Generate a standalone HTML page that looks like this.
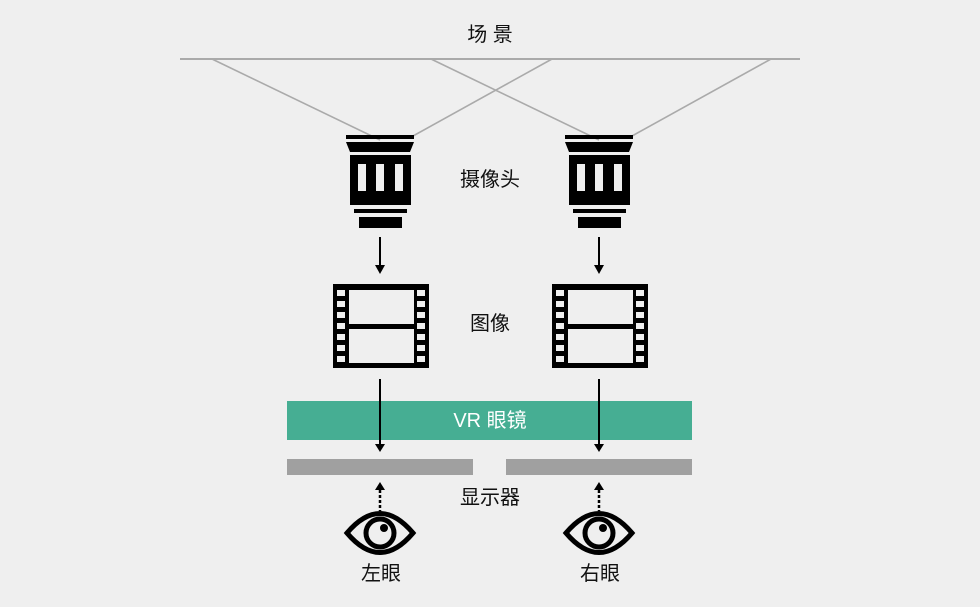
<!DOCTYPE html>
<html><head><meta charset="utf-8"><style>
html,body{margin:0;padding:0;background:#efefef;}
svg{display:block}
text{font-family:"Liberation Sans","Noto Sans CJK SC",sans-serif;font-size:20px;fill:#111;text-anchor:middle}
</style></head><body>
<svg width="980" height="607" viewBox="0 0 980 607" xmlns="http://www.w3.org/2000/svg">
<defs>
<g id="cam">
<rect x="-34" y="135" width="68" height="4" fill="#000"/>
<polygon points="-34,142 34,142 30,152 -30,152" fill="#000"/>
<rect x="-30" y="155" width="61" height="50" fill="#000"/>
<rect x="-22" y="164" width="8" height="27" fill="#efefef"/>
<rect x="-4" y="164" width="8" height="27" fill="#efefef"/>
<rect x="15" y="164" width="8" height="27" fill="#efefef"/>
<rect x="-26" y="209" width="53" height="4" fill="#000"/>
<rect x="-21" y="217" width="43" height="11" fill="#000"/>
<line x1="0" y1="237" x2="0" y2="266" stroke="#000" stroke-width="2"/>
<polygon points="-5,265 5,265 0,274" fill="#000"/>
</g>
<g id="film">
<rect x="-47" y="284" width="96" height="84" fill="#000"/>
<rect x="-31" y="290" width="65" height="34" fill="#efefef"/>
<rect x="-31" y="329" width="65" height="34" fill="#efefef"/>
<g fill="#efefef">
<rect x="-43" y="290" width="8" height="6"/><rect x="-43" y="301" width="8" height="6"/><rect x="-43" y="312" width="8" height="6"/><rect x="-43" y="323" width="8" height="6"/><rect x="-43" y="334" width="8" height="6"/><rect x="-43" y="345" width="8" height="6"/><rect x="-43" y="356" width="8" height="6"/>
<rect x="37" y="290" width="8" height="6"/><rect x="37" y="301" width="8" height="6"/><rect x="37" y="312" width="8" height="6"/><rect x="37" y="323" width="8" height="6"/><rect x="37" y="334" width="8" height="6"/><rect x="37" y="345" width="8" height="6"/><rect x="37" y="356" width="8" height="6"/>
</g>
</g>
<g id="eye">
<path d="M-33,533 Q0,494 33,533 Q0,572 -33,533 Z" fill="none" stroke="#000" stroke-width="5"/>
<circle cx="0" cy="533" r="14" fill="none" stroke="#000" stroke-width="5"/>
<circle cx="4" cy="528" r="4" fill="#000"/>
<line x1="0" y1="490" x2="0" y2="511" stroke="#000" stroke-width="2.5" stroke-dasharray="3,2"/>
<polygon points="-5,490 5,490 0,482" fill="#000"/>
</g>
</defs>
<line x1="180" y1="59" x2="800" y2="59" stroke="#aaa" stroke-width="2"/>
<g stroke="#aaa" stroke-width="1.6">
<line x1="212" y1="59" x2="380" y2="140"/>
<line x1="552" y1="59" x2="413" y2="136"/>
<line x1="431" y1="59" x2="599" y2="140"/>
<line x1="771" y1="59" x2="632" y2="136"/>
</g>
<use href="#cam" x="380"/>
<use href="#cam" x="599"/>
<use href="#film" x="380"/>
<use href="#film" x="599"/>
<rect x="287" y="401" width="405" height="39" fill="#46ae93"/>
<text x="490" y="427" style="fill:#fff">VR 眼镜</text>
<rect x="287" y="459" width="186" height="16" fill="#a0a0a0"/>
<rect x="506" y="459" width="186" height="16" fill="#a0a0a0"/>
<g stroke="#000" stroke-width="2">
<line x1="380" y1="379" x2="380" y2="445"/>
<line x1="599" y1="379" x2="599" y2="445"/>
</g>
<polygon points="375,444 385,444 380,452" fill="#000"/>
<polygon points="594,444 604,444 599,452" fill="#000"/>
<use href="#eye" x="380"/>
<use href="#eye" x="599"/>
<text x="490" y="41">场 景</text>
<text x="490" y="186">摄像头</text>
<text x="490" y="330">图像</text>
<text x="490" y="504">显示器</text>
<text x="381" y="580">左眼</text>
<text x="600" y="580">右眼</text>
</svg>
</body></html>
